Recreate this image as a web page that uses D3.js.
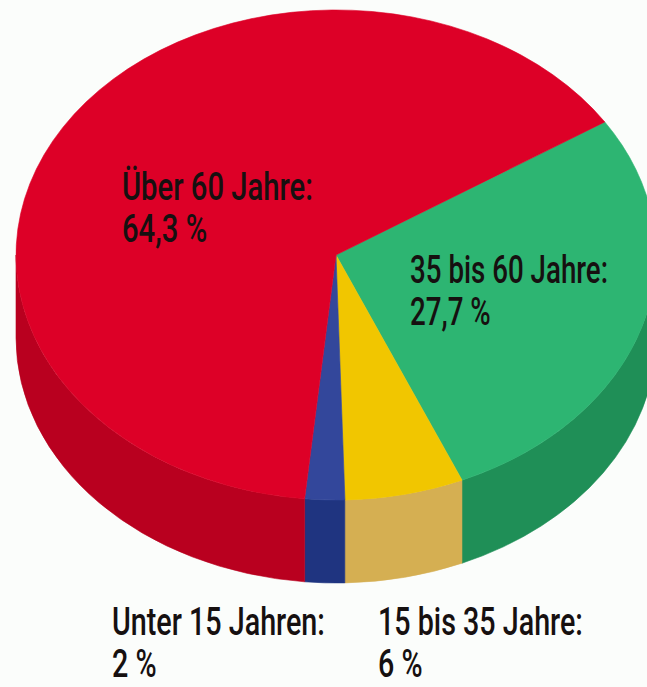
<!DOCTYPE html>
<html>
<head>
<meta charset="utf-8">
<script src="https://cdn.jsdelivr.net/npm/d3@7"></script>
<style>
  html, body { margin: 0; padding: 0; background: #fbfdfb; }
  svg { display: block; }
  text { font-family: Roboto, "Liberation Sans", sans-serif; font-weight: 500; fill: #161010; }
</style>
</head>
<body>
<svg id="chart" width="647" height="687"></svg>
<script>
// ---- data ----
const categories = ["35 bis 60 Jahre:", "15 bis 35 Jahre:", "Unter 15 Jahren:", "Über 60 Jahre:"];
const values = [27.7, 6, 2, 64.3];
const valueLabels = ["27,7 %", "6 %", "2 %", "64,3 %"];
const topColors = ["#2db572", "#f1c600", "#33479b", "#dd0027"];
const sideColors = ["#1f8f57", "#d5af52", "#1f3480", "#b9001f"];

// ---- layout ----
const W = 647, H = 687;
const cx = 336, cy = 255, rx = 320, ry = 245, depth = 83;
const startA = 0.9966; // d3 angle (clockwise from 12 o'clock)

const svg = d3.select("#chart");

const pie = d3.pie().sort(null).value(d => d.v)
  .startAngle(startA).endAngle(startA + 2 * Math.PI);
const slices = pie(values.map((v, i) => ({ v, i })));

const th = a => a - Math.PI / 2;
const P = (t, dy = 0) => [cx + rx * Math.cos(t), cy + ry * Math.sin(t) + dy];

// ---- side walls (visible front half: theta in [0, PI]) ----
const sideG = svg.append("g");
slices.forEach(s => {
  const t1 = th(s.startAngle), t2 = th(s.endAngle);
  const norm = t => ((t % (2 * Math.PI)) + 2 * Math.PI) % (2 * Math.PI);
  const a = norm(t1), b = a + (t2 - t1);
  const segs = [];
  [[0, Math.PI], [2 * Math.PI, 3 * Math.PI]].forEach(([lo, hi]) => {
    const u = Math.max(a, lo), w = Math.min(b, hi);
    if (w > u) segs.push([u, w]);
  });
  segs.forEach(([u, w]) => {
    const p1 = P(u), p2 = P(w), q2 = P(w, depth), q1 = P(u, depth);
    const large = (w - u) > Math.PI ? 1 : 0;
    const d = `M${p1[0]},${p1[1]} A${rx},${ry} 0 ${large} 1 ${p2[0]},${p2[1]} ` +
              `L${q2[0]},${q2[1]} A${rx},${ry} 0 ${large} 0 ${q1[0]},${q1[1]} Z`;
    sideG.append("path").attr("d", d)
      .attr("fill", sideColors[s.data.i])
      .attr("stroke", sideColors[s.data.i]).attr("stroke-width", 0.6);
  });
});

// ---- top faces ----
const arc = d3.arc().innerRadius(0).outerRadius(1);
const topG = svg.append("g").attr("transform", `translate(${cx},${cy}) scale(${rx},${ry})`);
topG.selectAll("path").data(slices).join("path")
  .attr("d", arc)
  .attr("fill", d => topColors[d.data.i])
  .attr("stroke", d => topColors[d.data.i])
  .attr("stroke-width", 0.6)
  .attr("vector-effect", "non-scaling-stroke");

// ---- labels ----
// [x, y of first baseline, line height, target width of line 1]
const labelPos = [
  [410, 283, 42, 198],
  [378, 635, 42, 205],
  [112, 635, 42, 213],
  [122, 200, 42, 191]
];
const fs = 39;
const lg = svg.append("g");
categories.forEach((c, i) => {
  const [x, y, lh, w1] = labelPos[i];
  const t = lg.append("text").attr("font-size", fs);
  const l1 = t.append("tspan").attr("x", 0).attr("y", 0).text(c);
  t.append("tspan").attr("x", 0).attr("y", lh).text(valueLabels[i]);
  const natural = l1.node().getComputedTextLength();
  const sx = w1 / natural;
  t.attr("transform", `translate(${x},${y}) scale(${sx},1)`);
});
</script>
</body>
</html>
